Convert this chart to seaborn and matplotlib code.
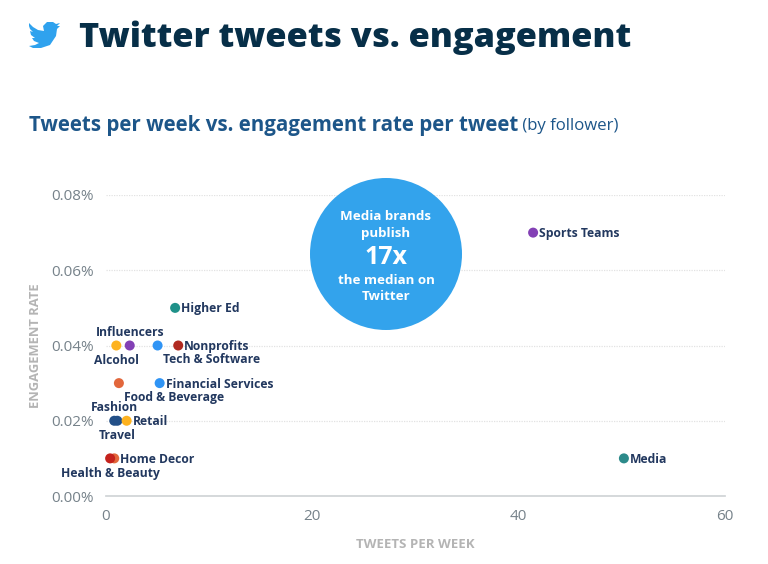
import matplotlib
matplotlib.use("Agg")
import matplotlib.pyplot as plt
from matplotlib.patches import Circle, PathPatch
from matplotlib.path import Path
import pandas as pd
import seaborn as sns

names = ["Higher Ed", "Influencers", "Alcohol", "Tech & Software", "Nonprofits",
         "Food & Beverage", "Financial Services", "Fashion", "Travel", "Retail",
         "Home Decor", "Health & Beauty", "Sports Teams", "Media"]
tweets = [6.7, 2.3, 1.0, 5.0, 7.0, 1.25, 5.2, 0.8, 1.1, 2.0, 0.8, 0.4, 41.4, 50.2]
engagement = [0.05, 0.04, 0.04, 0.04, 0.04, 0.03, 0.03, 0.02, 0.02, 0.02, 0.01, 0.01, 0.07, 0.01]
colors = ["#1f9189", "#8340b5", "#fdb21f", "#2f94f5", "#b02a21", "#e2673c", "#2f94f5",
          "#235088", "#235088", "#fdb21f", "#e2673c", "#c4221c", "#8340b5", "#2c8a8a"]

# label offset from the point in pixels, and horizontal alignment
label_pos = {
    "Higher Ed": (6, -1, "left"), "Influencers": (0, 13, "center"), "Alcohol": (0, -15, "center"),
    "Tech & Software": (5, -14, "left"), "Nonprofits": (6, -1, "left"),
    "Food & Beverage": (5, -14, "left"), "Financial Services": (6, -1, "left"),
    "Fashion": (0, 13, "center"), "Travel": (0, -15, "center"), "Retail": (6, -1, "left"),
    "Home Decor": (6, -1, "left"), "Health & Beauty": (0, -15, "center"),
    "Sports Teams": (6, -1, "left"), "Media": (6, -1, "left"),
}

df = pd.DataFrame({"name": names, "tweets": tweets, "engagement": engagement})

W, H = 768, 564
sns.set_theme(style="white")
plt.rcParams["font.family"] = ["Open Sans", "DejaVu Sans"]

fig = plt.figure(figsize=(W / 100, H / 100), dpi=100)
ax = fig.add_axes([106 / W, 1 - 496 / H, (725 - 106) / W, (496 - 195) / H])
ax.patch.set_alpha(0)

sns.scatterplot(data=df, x="tweets", y="engagement", hue="name", palette=colors,
                s=52, linewidth=0, legend=False, ax=ax, clip_on=False, zorder=3)

ax.set_xlim(0, 60)
ax.set_ylim(0, 0.08)
ax.set_xticks([0, 20, 40, 60])
ax.set_yticks([0, 0.02, 0.04, 0.06, 0.08])
ax.set_yticklabels(["0.00%", "0.02%", "0.04%", "0.06%", "0.08%"])
ax.tick_params(axis="both", length=0, labelsize=11, labelcolor="#76828a")
ax.tick_params(axis="x", pad=9.5)
ax.tick_params(axis="y", pad=8.7)
ax.grid(axis="y", color="#e2e2e2", linewidth=0.9, linestyle=(0, (1, 1)))
ax.set_axisbelow(True)
sns.despine(ax=ax, left=True, top=True, right=True)
ax.spines["bottom"].set_color("#d0d4d6")
ax.set_xlabel("TWEETS PER WEEK", fontsize=9.5, fontweight="bold", color="#b4b4b4", labelpad=10)
ax.set_ylabel("ENGAGEMENT RATE", fontsize=9.4, fontweight="bold", color="#b4b4b4", labelpad=7)

for name, x, y in zip(names, tweets, engagement):
    dx, dy, ha = label_pos[name]
    ax.annotate(name, (x, y), xytext=(dx * 0.72, dy * 0.72), textcoords="offset points",
                ha=ha, va="center", fontsize=8.7, fontweight="bold", color="#22385f", zorder=4)

# overlay in pixel coordinates for the header, icon and callout
ov = fig.add_axes([0, 0, 1, 1], zorder=5)
ov.set_xlim(0, W)
ov.set_ylim(H, 0)
ov.axis("off")

ov.text(79, 38, "Twitter tweets vs. engagement", fontsize=24.7, fontweight="heavy",
        color="#072f48", va="center", ha="left")
t = ov.text(29, 126, "Tweets per week vs. engagement rate per tweet", fontsize=14.8,
            fontweight="bold", color="#1d5689", va="center", ha="left")
ov.annotate(" (by follower)", xy=(1, 0.5), xycoords=t, va="center", ha="left",
            fontsize=12.1, color="#1d5689")

ov.add_patch(Circle((386, 254), 76, color="#33a3ec", lw=0))
for yy, txt, size in [(217, "Media brands", 9.6), (234, "publish", 9.6), (258, "17x", 18),
                      (281, "the median on", 9.6), (297, "Twitter", 9.6)]:
    ov.text(386, yy, txt, color="white", fontsize=size, fontweight="bold", ha="center", va="center")

bird = [(29, 23), (33, 27), (38, 30), (44, 31), (43, 26), (47, 22), (53, 22), (56, 24),
        (60, 23), (57, 26), (60, 26), (57, 29), (56, 36), (50, 45), (41, 48), (33, 48),
        (29, 46), (35, 45), (39, 43), (34, 41), (32, 38), (35, 38), (31, 35), (30, 31),
        (33, 32), (30, 29), (29, 26)]
ov.add_patch(PathPatch(Path(bird + [bird[0]], closed=True), color="#2fa2ee", lw=0))

fig.savefig("out.png", dpi=100)
